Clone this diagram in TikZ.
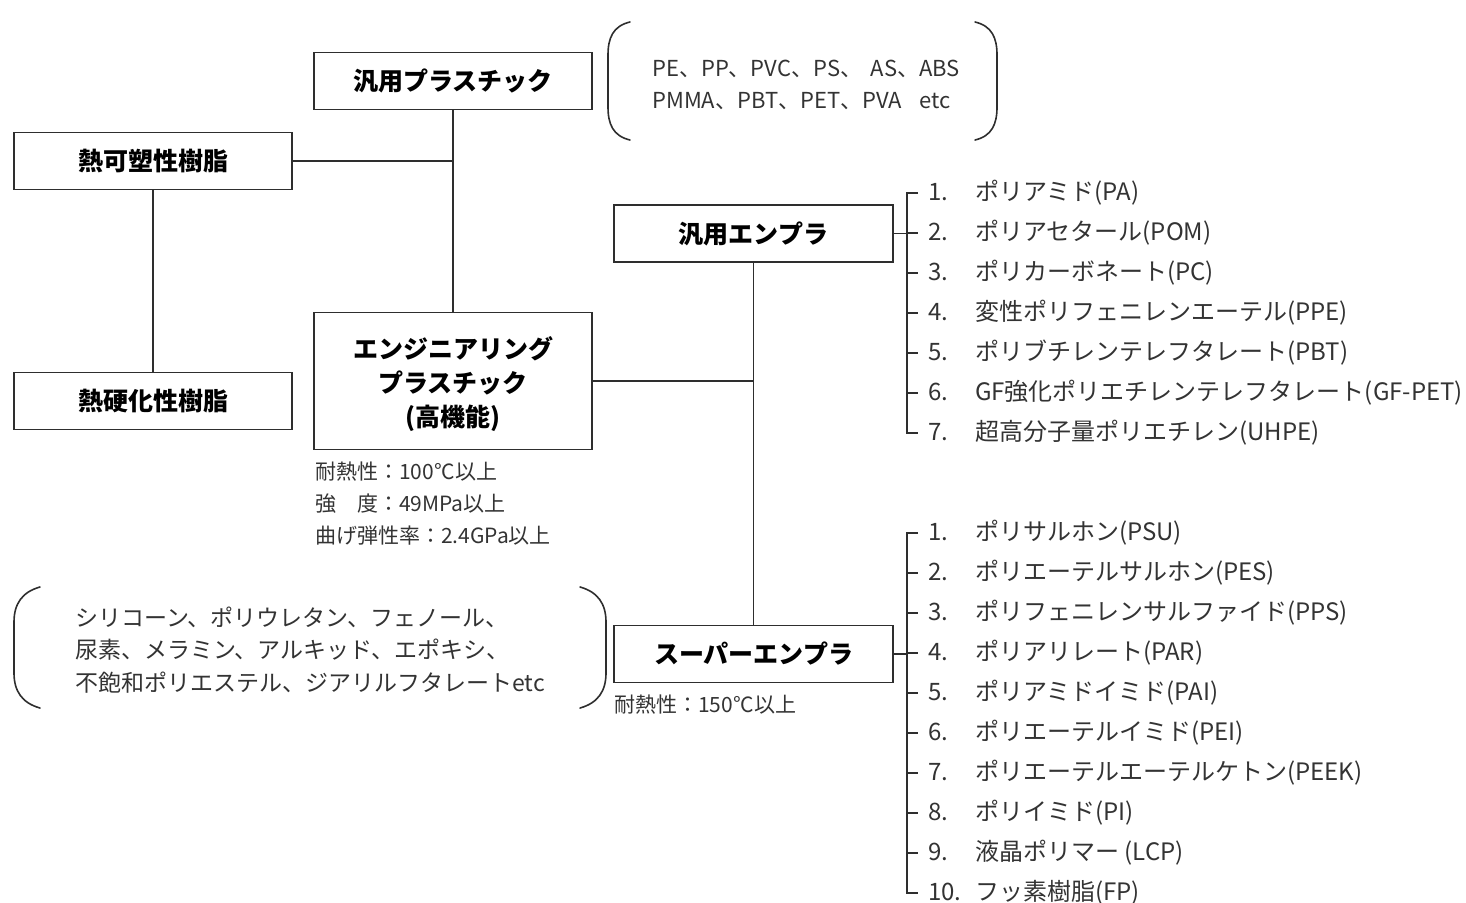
\documentclass[tikz,border=0pt]{standalone}
\usepackage{fontspec}
\setmainfont{Noto Sans CJK JP}
\usetikzlibrary{calc}
\definecolor{ink}{HTML}{2E2E2E}
\definecolor{txt}{HTML}{333333}
\begin{document}
\begin{tikzpicture}[x=1pt,y=-1pt,
  box/.style={draw=ink, line width=1.8pt, inner sep=0pt, minimum width=278pt, minimum height=57pt, text=black, font=\bfseries\fontsize{25}{34}\selectfont, align=center},
  conn/.style={draw=ink, line width=1.6pt},
  item/.style={anchor=west, inner sep=0pt, text=txt, font=\fontsize{24}{28}\selectfont},
  note/.style={anchor=west, inner sep=0pt, text=txt, font=\fontsize{21}{26}\selectfont},
  paren/.style={draw=ink, line width=1.6pt, line cap=round}]
\useasboundingbox (0,0) rectangle (1466,902);

% boxes
\node[box] (gp) at (453,81) {汎用プラスチック};
\node[box] (tp) at (153,161) {熱可塑性樹脂};
\node[box] (ts) at (153,401) {熱硬化性樹脂};
\node[box, minimum height=137pt] (ep) at (453,381) {\raisebox{-5pt}[\height][\depth]{\begin{tabular}{@{}c@{}}エンジニアリング\\プラスチック\\(高機能)\end{tabular}}};
\node[box, minimum width=279pt] (ge) at (753.5,233.5) {汎用エンプラ};
\node[box, minimum width=279pt] (se) at (753.5,654) {スーパーエンプラ};

% connectors
\draw[conn] (gp.south) -- (ep.north);
\draw[conn] (tp.east) -- (tp.east -| gp.south);
\draw[conn] (tp.south) -- (ts.north);
\coordinate (ej) at (753,381);
\draw[conn] (ep.east) -- (ej);
\draw[conn] (ge.south) -- (se.north);

% notes
\node[note] (n1) at (315,472) {耐熱性：100°C以上};
\node[note] (n2) at (315,504) {強　度：49MPa以上};
\node[note] (n3) at (315,536) {曲げ弾性率：2.4GPa以上};
\node[note] (n4) at (614,705) {耐熱性：150°C以上};

% top-right parenthesis group
\draw[paren] (630,22) .. controls (613,26) and (608,38) .. (608,55) -- (608,107) .. controls (608,124) and (613,136) .. (630,140);
\draw[paren] (975,22) .. controls (992,26) and (997,38) .. (997,55) -- (997,107) .. controls (997,124) and (992,136) .. (975,140);
\node[note, font=\fontsize{22}{26}\selectfont] (p1) at (652,69) {PE、PP、PVC、PS、\hspace{0.4em}AS、ABS};
\node[note, font=\fontsize{22}{26}\selectfont] (p2) at (652,101) {PMMA、PBT、PET、PVA\hspace{0.8em}etc};

% bottom-left parenthesis group
\draw[paren] (40,587) .. controls (22,592) and (14,604) .. (14,622) -- (14,673) .. controls (14,691) and (22,703) .. (40,708);
\draw[paren] (580,587) .. controls (598,592) and (606,604) .. (606,622) -- (606,673) .. controls (606,691) and (598,703) .. (580,708);
\node[note, font=\fontsize{23}{26}\selectfont] (t1) at (75,617) {シリコーン、ポリウレタン、フェノール、};
\node[note, font=\fontsize{23}{26}\selectfont] (t2) at (75,650) {尿素、メラミン、アルキッド、エポキシ、};
\node[note, font=\fontsize{23}{26}\selectfont] (t3) at (75,683) {不飽和ポリエステル、ジアリルフタレートetc};

% general engineering plastics list
\foreach \i/\t [count=\k from 0] in {1/ポリアミド(PA), 2/ポリアセタール(POM), 3/ポリカーボネート(PC), 4/変性ポリフェニレンエーテル(PPE), 5/ポリブチレンテレフタレート(PBT), 6/GF強化ポリエチレンテレフタレート(GF-PET), 7/超高分子量ポリエチレン(UHPE)}{
  \node[item] (g\i) at (928,{193+40*\k}) {\makebox[47pt][l]{\i.}\t};
}
\coordinate (gbr) at (907,233.5);
\draw[conn] (ge.east) -- (gbr);
\draw[conn] ([xshift=-10pt]g1.west) -- (907,193) -- (907,433) -- ([xshift=-10pt]g7.west);
\foreach \i in {2,...,6}{
  \draw[conn] (g\i.west -| gbr) -- ([xshift=-10pt]g\i.west);
}

% super engineering plastics list
\foreach \i/\t [count=\k from 0] in {1/ポリサルホン(PSU), 2/ポリエーテルサルホン(PES), 3/ポリフェニレンサルファイド(PPS), 4/ポリアリレート(PAR), 5/ポリアミドイミド(PAI), 6/ポリエーテルイミド(PEI), 7/ポリエーテルエーテルケトン(PEEK), 8/ポリイミド(PI), 9/液晶ポリマー (LCP), 10/フッ素樹脂(FP)}{
  \node[item] (s\i) at (928,{533+40*\k}) {\makebox[47pt][l]{\i.}\t};
}
\coordinate (sbr) at (907,654);
\draw[conn] (se.east) -- (sbr);
\draw[conn] ([xshift=-10pt]s1.west) -- (907,533) -- (907,893) -- ([xshift=-10pt]s10.west);
\foreach \i in {2,...,9}{
  \draw[conn] (s\i.west -| sbr) -- ([xshift=-10pt]s\i.west);
}
\end{tikzpicture}
\end{document}
